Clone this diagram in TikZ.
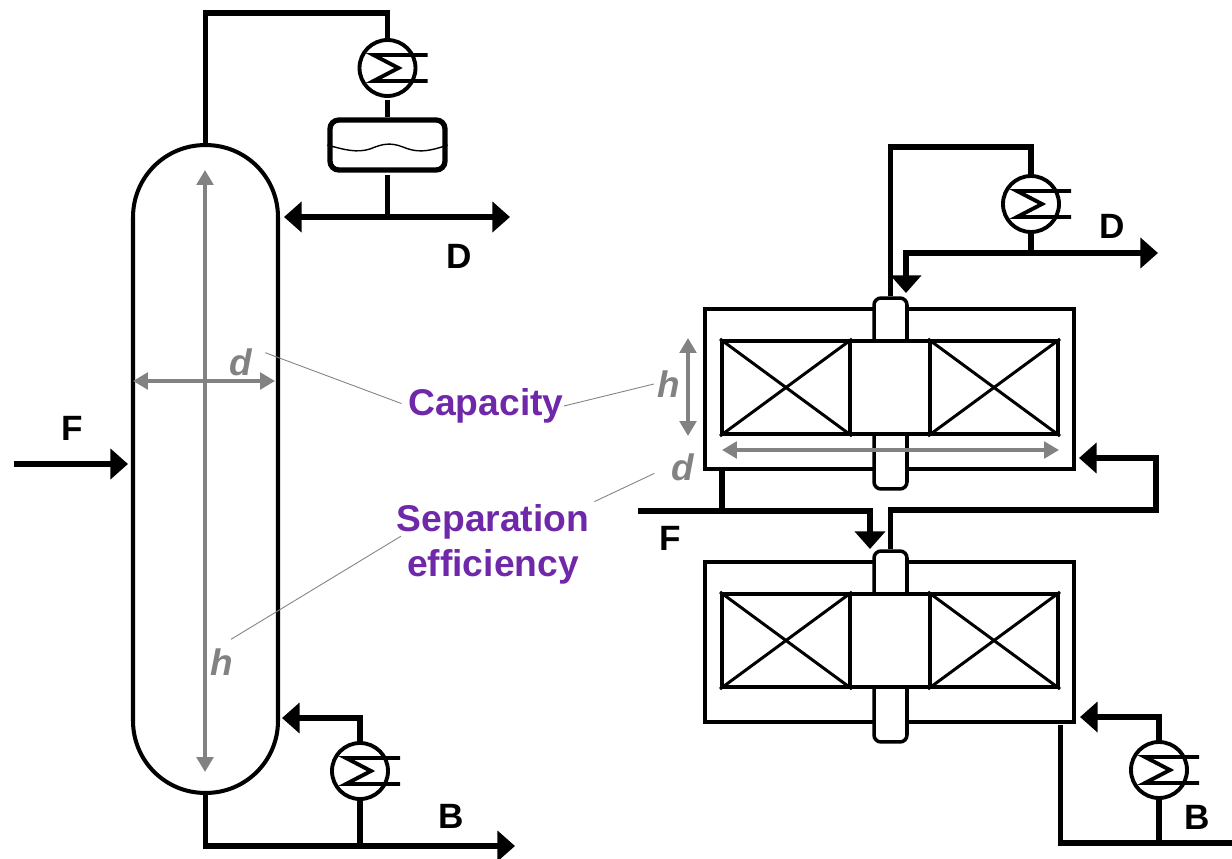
\documentclass[tikz,border=0pt]{standalone}
\usepackage{fontspec}
\setmainfont{Liberation Sans}
\usepackage{xcolor}
\usetikzlibrary{arrows.meta}
\definecolor{labelpurple}{RGB}{112,40,170}
\definecolor{dimgrey}{RGB}{130,130,130}
\tikzset{
  pipe/.style={line width=3pt},
  flow/.style={line width=3pt, -{Triangle[length=10pt, width=17pt]}},
  exch/.style={circle, draw, line width=2.2pt, fill=white, inner sep=0pt, minimum size=1.12cm},
  dim/.style={draw=dimgrey, line width=1.9pt, {Triangle[length=8.5pt, width=9.5pt]}-{Triangle[length=8.5pt, width=9.5pt]}},
  leader/.style={draw=dimgrey, line width=0.5pt},
  stream/.style={font=\bfseries\fontsize{20}{22}\selectfont, inner sep=0pt},
  dimlabel/.style={text=dimgrey, font=\bfseries\itshape\fontsize{21}{22}\selectfont, inner sep=2pt},
  callout/.style={text=labelpurple, align=center, font=\bfseries\fontsize{21.2}{25.5}\selectfont, inner sep=0pt},
  pack/.style={rectangle, draw, line width=2.3pt, fill=white, inner sep=0pt, minimum width=2.56cm, minimum height=1.86cm},
}

\begin{document}
\begin{tikzpicture}[x=0.02cm, y=-0.02cm]
    \useasboundingbox (0, 0) rectangle (1232, 859);

    % column
    \node[rectangle, draw, line width=2.3pt, rounded corners=1.44cm, inner sep=0pt, minimum width=2.9cm, minimum height=12.96cm] (column) at (205.5, 469) {};
    \node[rectangle, draw, line width=3pt, rounded corners=5pt, inner sep=0pt, minimum width=2.3cm, minimum height=1cm] (drum) at (387.5, 145) {};
    \draw[line width=0.8pt] (drum.west) .. controls (345, 150) and (357, 153) .. (370, 149) .. controls (382, 144) and (390, 142) .. (403, 147) .. controls (415, 152) and (425, 153) .. (drum.east);

    % exchangers
    \foreach \nm/\x/\y in {exchA/387.5/68, exchB/360/771, exchC/1031/204, exchD/1159/770} {
      \node[exch] (\nm) at (\x, \y) {};
      \draw[line width=2.2pt] (\x+40, \y-13) -- (\x-14, \y-13) -- (\x+11, \y) -- (\x-14, \y+13) -- (\x+40, \y+13);
    }

    % units
    \foreach \nm/\y in {A/0, B/253} {
      \node[rectangle, draw, line width=2.2pt, inner sep=0pt, minimum width=7.38cm, minimum height=3.2cm] (outer\nm) at (889.5, 389+\y) {};
      \node[rectangle, draw, line width=2pt, fill=white, rounded corners=4pt, inner sep=0pt, minimum width=0.66cm, minimum height=3.82cm] (shaft\nm) at (890.5, 393.5+\y) {};
      \node[pack] (packL\nm) at (786, 387.5+\y) {};
      \node[pack] (packR\nm) at (994, 387.5+\y) {};
      \node[pack, minimum width=1.6cm] (hub\nm) at (890, 387.5+\y) {};
      \foreach \p in {packL\nm, packR\nm} {
        \draw[line width=1.7pt] (\p.north west) -- (\p.south east);
        \draw[line width=1.7pt] (\p.south west) -- (\p.north east);
      }
    }

    % left column streams
    \coordinate (overA) at (205.5, 13);
    \coordinate (splitA) at (387.5, 217);
    \coordinate (refluxA) at (284, 217);
    \coordinate (distA) at (510, 217);
    \coordinate (feedA) at (14, 464);
    \coordinate (feedtipA) at (128, 464);
    \coordinate (boilA) at (282, 718);
    \coordinate (botA) at (205.5, 846);
    \coordinate (btmA) at (515, 846);

    \draw[pipe] (column.north) -- (overA) -| (exchA.north);
    \draw[pipe] (exchA.south) ++(0, 2) -- (drum.north);
    \draw[pipe] (drum.south) ++(0, 2) -- (splitA);
    \draw[flow] (splitA) -- (refluxA);
    \draw[flow] (splitA) -- (distA);
    \draw[flow] (feedA) -- (feedtipA);
    \draw[flow] (exchB.north) |- (boilA);
    \draw[flow] (column.south) -- (botA) -- (btmA);
    \draw[pipe] (exchB.south) -- (exchB.south |- btmA);

    % right unit streams
    \coordinate (overC) at (890.5, 147);
    \coordinate (splitC) at (1031, 253);
    \coordinate (refluxC) at (906, 253);
    \coordinate (tipC) at (906, 293);
    \coordinate (distC) at (1158, 253);
    \coordinate (feedB) at (638, 511);
    \coordinate (feedbend) at (870, 511);
    \coordinate (feedtip) at (870, 549);
    \coordinate (feedup) at (722, 469);
    \coordinate (feedjoin) at (722, 511);
    \coordinate (retA) at (890.5, 510);
    \coordinate (retB) at (1156, 510);
    \coordinate (rettip) at (1079, 458);
    \coordinate (boilD) at (1080, 717);
    \coordinate (botD) at (1060.5, 725);
    \coordinate (cornerD) at (1060.5, 843);
    \coordinate (btmD) at (1254, 843);

    \draw[pipe] (shaftA.north) -- (overC) -| (exchC.north);
    \draw[pipe] (exchC.south) -- (splitC);
    \draw[flow] (splitC) -- (distC);
    \draw[flow] (splitC) -- (refluxC) -- (tipC);
    \draw[pipe] (feedup) -- (feedjoin);
    \draw[flow] (feedB) -- (feedbend) -- (feedtip);
    \draw[flow] (shaftB.north) -- (retA) -- (retB) |- (rettip);
    \draw[flow] (exchD.north) |- (boilD);
    \draw[flow] (botD) -- (cornerD) -- (btmD);
    \draw[pipe] (exchD.south) -- (exchD.south |- cornerD);

    % dimensions
    \coordinate (htopA) at (205, 170);
    \coordinate (hbotA) at (205, 772);
    \coordinate (dleftA) at (133, 381);
    \coordinate (drightA) at (275, 381);
    \coordinate (htopB) at (688, 338);
    \coordinate (hbotB) at (688, 436);
    \coordinate (dleftB) at (722, 450);
    \coordinate (drightB) at (1059, 450);
    \draw[dim] (htopA) -- (hbotA);
    \draw[dim] (dleftA) -- (drightA);
    \draw[dim] (htopB) -- (hbotB);
    \draw[dim] (dleftB) -- (drightB);

    % labels
    \node[stream] (labelDA) at (459, 256) {D};
    \node[stream] (labelFA) at (72, 428) {F};
    \node[stream] (labelBA) at (451, 816) {B};
    \node[stream] (labelDB) at (1112, 226) {D};
    \node[stream] (labelFB) at (670, 538) {F};
    \node[stream] (labelBB) at (1197, 817) {B};
    \node[dimlabel] (dA) at (241, 362) {d};
    \node[dimlabel] (hA) at (222, 662) {h};
    \node[dimlabel] (hB) at (669, 384) {h};
    \node[dimlabel] (dB) at (683, 467) {d};
    \node[callout] (capacity) at (486, 406) {Capacity};
    \node[callout] (sepeff) at (493, 544) {Separation\\efficiency};

    \draw[leader, shorten <=5.5pt, shorten >=4pt] (dA.40) -- (capacity.west);
    \draw[leader] (capacity.east) -- (hB.west);
    \draw[leader, shorten >=8.5pt, shorten <=3pt] (sepeff.north east) -- (dB.west);
    \draw[leader, shorten <=-3pt, shorten >=6pt] (sepeff.177) -- (hA.north);
\end{tikzpicture}
\end{document}
